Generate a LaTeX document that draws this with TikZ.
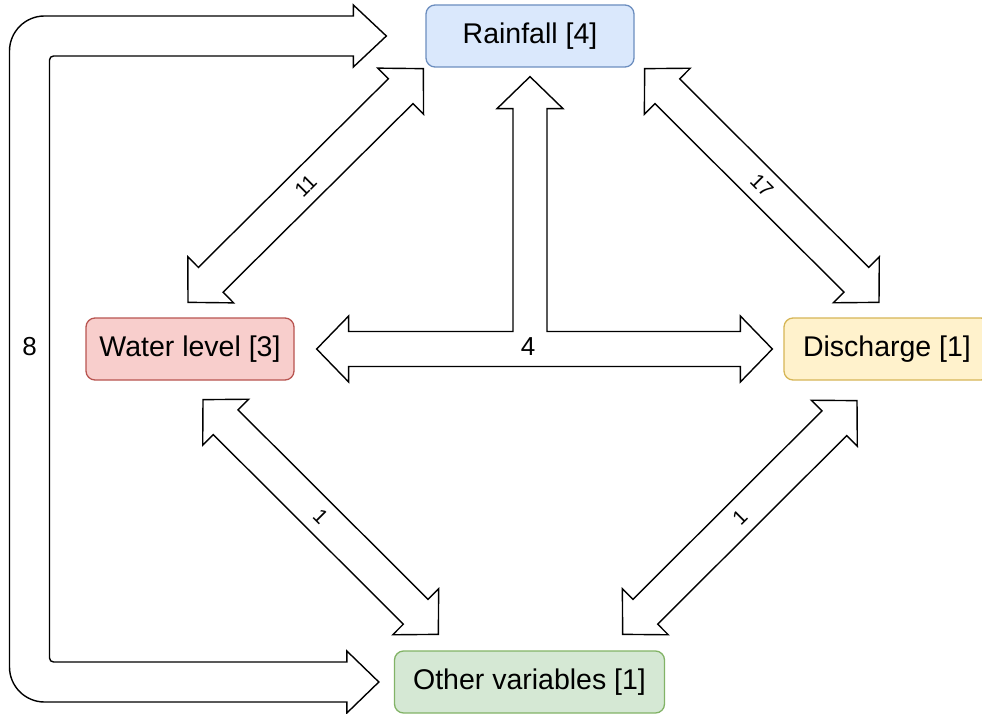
\documentclass[tikz,border=0pt]{standalone}
\usepackage{fontspec}
\setmainfont{Liberation Sans}
\usetikzlibrary{calc}

\definecolor{rainfill}{HTML}{DAE8FC}\definecolor{raindraw}{HTML}{6C8EBF}
\definecolor{wlfill}{HTML}{F8CECC}\definecolor{wldraw}{HTML}{B85450}
\definecolor{disfill}{HTML}{FFF2CC}\definecolor{disdraw}{HTML}{D6B656}
\definecolor{othfill}{HTML}{D5E8D4}\definecolor{othdraw}{HTML}{82B366}

\tikzset{
  box/.style={draw, rounded corners=9pt, line width=1.3pt, minimum width=208pt,
    minimum height=62pt, inner sep=0pt, font=\fontsize{28.5}{34}\selectfont},
  flexline/.style={draw=black, fill=white, line width=1.4pt, line join=miter},
  lbl/.style={font=\fontsize{20.5}{24}\selectfont, inner sep=0pt},
  biglbl/.style={font=\fontsize{26}{30}\selectfont, inner sep=0pt}
}

% hollow double-headed arrow between two points
\newcommand{\dblarrow}[2]{%
  \coordinate (fa1) at ($(#1)!32pt!(#2)$);
  \coordinate (fa2) at ($(#2)!32pt!(#1)$);
  \draw[flexline] (#1)
    -- ($(fa1)!32.5pt!90:(#2)$) -- ($(fa1)!17.5pt!90:(#2)$)
    -- ($(fa2)!17.5pt!-90:(#1)$) -- ($(fa2)!32.5pt!-90:(#1)$)
    -- (#2)
    -- ($(fa2)!32.5pt!90:(#1)$) -- ($(fa2)!17.5pt!90:(#1)$)
    -- ($(fa1)!17.5pt!-90:(#2)$) -- ($(fa1)!32.5pt!-90:(#2)$)
    -- cycle;}

\begin{document}
\begin{tikzpicture}[x=1pt, y=-1pt]
  \useasboundingbox (0,0) rectangle (982,714);

  % variables
  \node[box, fill=rainfill, draw=raindraw] (rain) at (530,36) {Rainfall [4]};
  \node[box, fill=wlfill, draw=wldraw] (wl) at (190,349) {Water level [3]};
  \node[box, fill=disfill, draw=disdraw, minimum width=206pt] (dis) at (887,349) {Discharge [1]};
  \node[box, fill=othfill, draw=othdraw, minimum width=270pt] (oth) at (529.5,682) {Other variables [1]};

  % arrow ends
  \coordinate (wlA) at ([shift={(-2,-15)}]wl.north);
  \coordinate (rainA) at ([shift={(-2,1)}]rain.south west);
  \coordinate (rainB) at ([shift={(10,1)}]rain.south east);
  \coordinate (disA) at ([shift={(-8,-15)}]dis.north);
  \coordinate (wlB) at ([shift={(13,19)}]wl.south);
  \coordinate (othA) at ([shift={(44.5,-16)}]oth.north west);
  \coordinate (disB) at ([shift={(-30,20)}]dis.south);
  \coordinate (othB) at ([shift={(-42.5,-16)}]oth.north east);

  % diagonal links
  \dblarrow{wlA}{rainA}
  \node[lbl, rotate=45] (l11) at ($(wlA)!0.5!(rainA)$) {11};
  \dblarrow{rainB}{disA}
  \node[lbl, rotate=-45] (l17) at ($(rainB)!0.5!(disA)$) {17};
  \dblarrow{wlB}{othA}
  \node[lbl, rotate=-45] (l1a) at ($(wlB)!0.5!(othA)$) {1};
  \dblarrow{disB}{othB}
  \node[lbl, rotate=45] (l1b) at ($(disB)!0.5!(othB)$) {1};

  % three-way link
  \coordinate (tL) at ([xshift=22pt]wl.east);
  \coordinate (tR) at ([xshift=-11pt]dis.west);
  \coordinate (tU) at ([shift={(0,9)}]rain.south);
  \draw[flexline] (tL) -- ($(tL)+(32,-33)$) -- ($(tL)+(32,-17.5)$)
    -- ($(tU |- tL)+(-17,-17.5)$) -- ($(tU)+(-17,32)$) -- ($(tU)+(-33,32)$)
    -- (tU) -- ($(tU)+(33,32)$) -- ($(tU)+(17,32)$)
    -- ($(tU |- tL)+(17,-17.5)$) -- ($(tR)+(-32,-17.5)$) -- ($(tR)+(-32,-33)$)
    -- (tR) -- ($(tR)+(-32,33)$) -- ($(tR)+(-32,17.5)$)
    -- ($(tL)+(32,17.5)$) -- ($(tL)+(32,33)$) -- cycle;
  \node[biglbl] (l4) at ($(tU |- tL)+(-2,-2)$) {4};

  % loop on the left
  \coordinate (tT) at ([xshift=-39pt]rain.west);
  \coordinate (tB) at ([xshift=-15pt]oth.west);
  \coordinate (loopL) at (29.5,347);
  \draw[flexline] (tT) -- ($(tT)+(-33,-31)$) -- ($(tT)+(-33,-20)$)
    -- ($(loopL |- tT)+(15,-20)$)
    .. controls ($(loopL |- tT)+(-4.3,-20)$) and ($(loopL |- tT)+(-20,-4.3)$) .. ($(loopL |- tT)+(-20,15)$)
    -- ($(loopL |- tB)+(-20,-15)$)
    .. controls ($(loopL |- tB)+(-20,4.3)$) and ($(loopL |- tB)+(-4.3,20)$) .. ($(loopL |- tB)+(15,20)$)
    -- ($(tB)+(-32,20)$) -- ($(tB)+(-32,31)$) -- (tB) -- ($(tB)+(-32,-31)$) -- ($(tB)+(-32,-20)$)
    -- ($(loopL |- tB)+(24,-20)$)
    .. controls ($(loopL |- tB)+(21.8,-20)$) and ($(loopL |- tB)+(20,-21.8)$) .. ($(loopL |- tB)+(20,-24)$)
    -- ($(loopL |- tT)+(20,24)$)
    .. controls ($(loopL |- tT)+(20,21.8)$) and ($(loopL |- tT)+(21.8,20)$) .. ($(loopL |- tT)+(24,20)$)
    -- ($(tT)+(-33,20)$) -- ($(tT)+(-33,31)$) -- cycle;
  \node[biglbl] (l8) at (loopL) {8};
\end{tikzpicture}
\end{document}
